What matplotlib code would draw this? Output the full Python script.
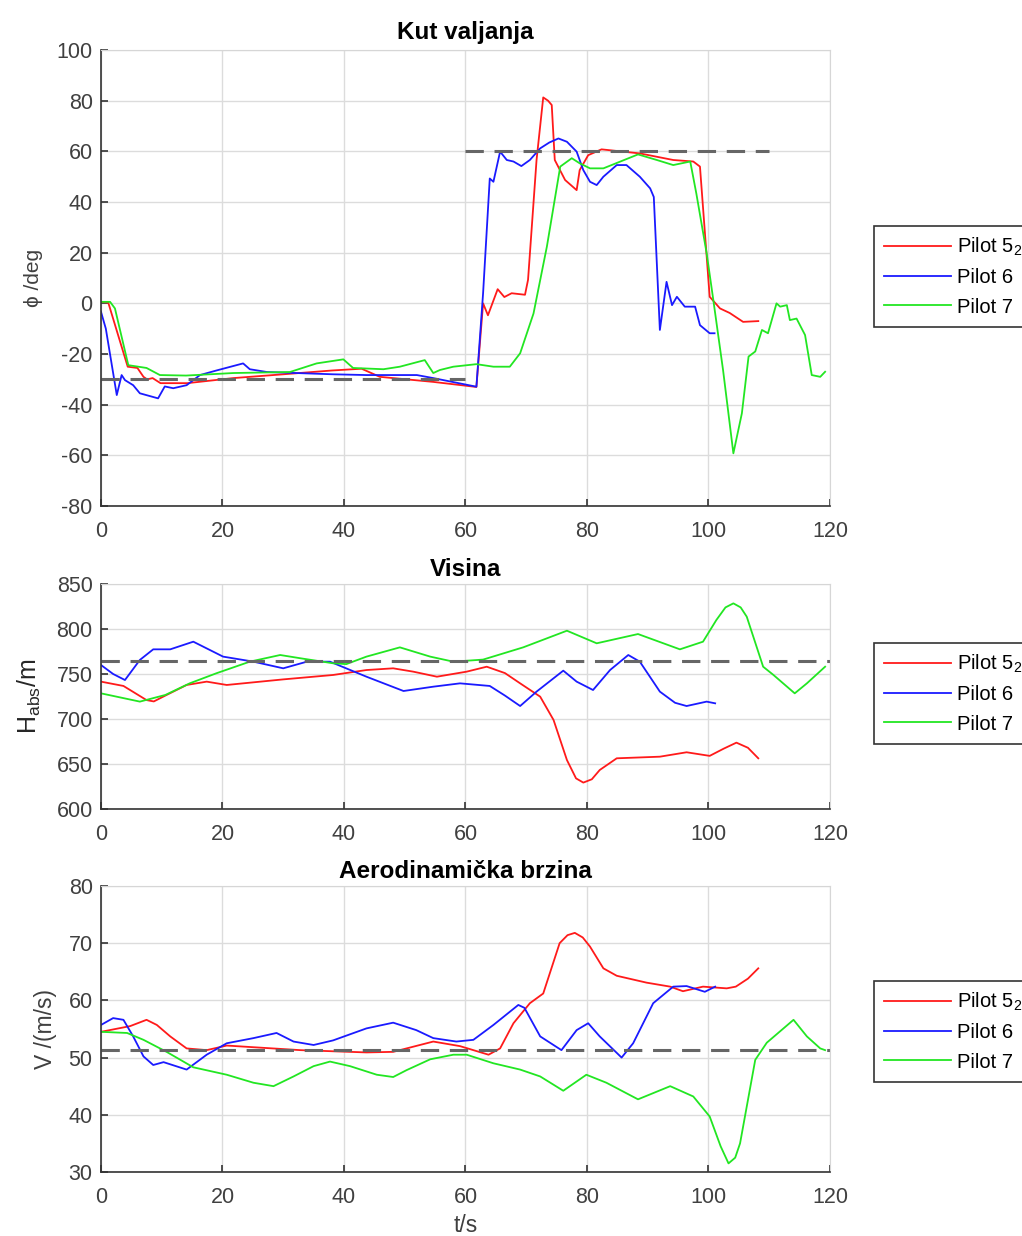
import numpy as np
import matplotlib
matplotlib.use('Agg')
import matplotlib.pyplot as plt

plt.rcParams['font.family'] = ['Liberation Sans', 'DejaVu Sans']
plt.rcParams['mathtext.default'] = 'regular'
plt.rcParams['axes.unicode_minus'] = False

# ---- roll angle (Kut valjanja) ----
t_roll_p5 = [0, 1.2, 2.5, 4.4, 6, 7, 7.6, 8.5, 9.8, 14.2, 21.8, 30, 38, 42.9, 45.9, 54.7, 61.8, 62.9, 63.7,
             65.3, 66.4, 67.6, 69.8, 70.3, 71.7, 72.8, 73.6, 74.2, 74.7, 76.4, 78.3, 78.8, 80.2, 82.4, 88.7,
             94.2, 97.5, 98.6, 100.2, 101.9, 103.5, 105.7, 108.2]
roll_p5 = [0.6, 0.3, -10, -25, -25.5, -29, -30, -29.5, -31.5, -31.5, -29.5, -28, -26.5, -25.8, -29, -31, -33, 0, -4.7,
           5.6, 2.5, 4, 3.4, 9.3, 56.6, 81.3, 80, 78.3, 56.6, 48.7, 44.7, 52.6, 58.5, 60.8, 59.2,
           56.6, 56, 54, 2.6, -2, -3.8, -7.3, -7]
t_roll_p6 = [0, 0.8, 2.6, 3.4, 3.95, 5.3, 6.4, 9.4, 10.5, 11.9, 14.1, 16.3, 19, 23.4, 24.5, 27.3, 38.2, 43.7, 52,
             54.7, 61.8, 62.9, 64, 64.6, 65.7, 66.8, 67.9, 69.2, 70.6, 72.3, 73.8, 75.3, 76.7, 78.3, 79.4, 80.5,
             81.6, 82.7, 84.9, 86.5, 88.7, 90.4, 91.0, 92, 93.1, 94, 94.8, 96.1, 97.8, 98.6, 100.2, 101]
roll_p6 = [-3.3, -10, -36.2, -28.3, -30.3, -32.3, -35.5, -37.5, -32.8, -33.5, -32.3, -28.3, -26.5, -23.7, -26, -27.1,
           -28, -28.3, -28.3, -29.5, -32.9, 4, 49.3, 48, 59.9, 56.6, 56, 54.2, 56.6, 61.2, 63.5, 65.1, 63.8, 59.9,
           52.6, 48, 46.7, 50, 54.6, 54.6, 50, 45.4, 42, -10.5, 8.5, -0.7, 2.6, -1.3, -1.3, -8.6, -11.8, -11.8]
t_roll_p7 = [0, 1.5, 2.3, 4.5, 7.5, 9.7, 14, 21.8, 31.1, 35.5, 39.9, 41.5, 46.5, 49.2, 53.3, 54.7, 55.8, 58, 61.8,
             64.6, 67.3, 69, 71.2, 73.4, 75.6, 77.5, 78.8, 80.5, 82.7, 85.4, 88.4, 91.5, 94.2, 97, 98, 99.7, 100.8,
             102.4, 104.1, 105.5, 106.6, 107.7, 108.8, 109.8, 111.2, 111.8, 112.9, 113.4, 114.5, 115.9, 117,
             118.4, 119.2]
roll_p7 = [0.6, 0.6, -2, -24.4, -25.5, -28.3, -28.5, -27.5, -27.1, -23.7, -22.1, -25.5, -26, -25, -22.4, -27.5,
           -26.3, -25, -24, -25, -25, -19.7, -4, 22.4, 54, 57.3, 55.3, 53.3, 53.3, 55.9, 58.8, 56.6, 54.6, 56, 43.4,
           19.8, 1.3, -26.3, -59.2, -43.4, -21, -19, -10.5, -11.8, 0, -1.3, -0.7, -6.6, -6, -12.5, -28.3, -29, -27]
roll_ref_t = [[0, 60], [60, 110]]
roll_ref = [-30, 60]

# ---- altitude (Visina) ----
t_alt_p5 = [0, 3.7, 7.5, 8.7, 10.8, 14.1, 17.4, 20.7, 30, 38.2, 43.7, 48.1, 51.4, 55.3, 60.2, 63.5, 66.5, 69,
            72.3, 74.5, 76.7, 78.2, 79.4, 80.8, 82.1, 84.9, 92, 96.4, 100.2, 102.5, 104.6, 106.5, 108.2]
alt_p5 = [741.5, 736.7, 721, 719.5, 726.7, 737.8, 741.5, 737.8, 744, 748.9, 754.4, 756.3, 752.6, 747, 752.6, 758.1,
          751, 739.6, 724.8, 698.9, 654.4, 634, 629.3, 633, 643.3, 656.3, 658.1, 663, 659, 667, 673.7, 668, 656.3]
t_alt_p6 = [0, 2, 3.95, 6.4, 8.6, 11.4, 15.2, 20.1, 25.1, 30, 33.9, 37.7, 43.7, 49.8, 54.7, 59.1, 64, 66.5, 69,
            71.7, 76.1, 78.3, 81, 83.8, 86.8, 88.7, 92, 94.5, 96.4, 99.7, 101.1]
alt_p6 = [760, 750, 743.3, 765.6, 777.4, 777.4, 785.9, 769.3, 763.7, 756.3, 763.7, 763.7, 747, 731.1, 735.9, 739.6,
          736.7, 726, 714.4, 730.4, 753.7, 741.5, 732.2, 754.4, 771.1, 763.7, 730.4, 718, 714.4, 719.3, 717.4]
t_alt_p7 = [0, 6.4, 10.6, 14.6, 19, 24.5, 29.5, 32.9, 38.2, 40.4, 43.7, 49.2, 54.2, 58, 62.9, 69.5, 76.7, 81.6,
            88.4, 95.3, 99.1, 101.3, 102.8, 104.1, 105.3, 106.3, 109, 110.7, 114.2, 116.2, 119.2]
alt_p7 = [728.5, 719.3, 726.7, 739.6, 750.8, 763.7, 771.1, 767.4, 761.9, 761, 769.3, 779.6, 769.3, 763.7, 766,
          779.6, 798.1, 784.1, 794.4, 777.4, 785.9, 810, 824, 828.5, 824, 813.7, 758.1, 748.9, 728.5, 739.6, 758.1]
alt_ref = 764

# ---- airspeed (Aerodinamička brzina) ----
t_v_p5 = [0, 4.8, 7.5, 9.2, 11.4, 14.1, 17.4, 20.7, 32.8, 43.7, 48.1, 54.7, 59.1, 63.8, 65.7, 67.9, 70.6, 72.8,
          75.5, 76.8, 78, 79.3, 80.5, 82.7, 84.9, 89.8, 93.7, 95.8, 99.1, 103, 104.5, 106.5, 108.2]
v_p5 = [54.5, 55.5, 56.6, 55.7, 53.7, 51.6, 51.3, 52.1, 51.3, 50.9, 51, 52.8, 52, 50.5, 51.6, 56, 59.5, 61.2,
        70, 71.4, 71.8, 71, 69.4, 65.6, 64.3, 63.1, 62.4, 61.6, 62.4, 62.1, 62.4, 63.8, 65.6]
t_v_p6 = [0, 2, 3.7, 5.3, 7, 8.6, 10.3, 14.1, 17.4, 20.7, 25.1, 28.9, 31.7, 35, 38.2, 43.7, 48.1, 51.9, 54.7,
          58.5, 61.3, 64.6, 68.7, 69.7, 72.3, 75.8, 78.3, 80.2, 82.1, 85.7, 87.6, 90.9, 94.2, 96.4, 99.4, 101.1]
v_p6 = [55.7, 56.9, 56.6, 53.7, 50.2, 48.7, 49.2, 47.9, 50.5, 52.5, 53.4, 54.3, 52.8, 52.2, 53, 55.1, 56.1, 54.8,
        53.4, 52.8, 53.1, 55.7, 59.2, 58.7, 53.7, 51.3, 54.8, 56, 53.7, 50, 52.5, 59.5, 62.4, 62.5, 61.5, 62.4]
t_v_p7 = [0, 4.3, 7, 10.8, 15.2, 20.7, 25.1, 28.4, 31.7, 35, 37.7, 41, 45.4, 48.1, 50.3, 54.2, 58, 60.2, 64.6,
          69, 72.3, 76.1, 79.9, 83.2, 88.4, 93.7, 97.5, 100.2, 102, 103.3, 104.4, 105.2, 107.7, 109.6, 114, 116.2,
          118.4, 119.2]
v_p7 = [54.5, 54.3, 53.1, 51, 48.3, 47, 45.6, 45, 46.7, 48.5, 49.3, 48.5, 47, 46.6, 47.8, 49.7, 50.5, 50.5, 49,
        47.9, 46.7, 44.2, 47, 45.6, 42.7, 45, 43.2, 39.7, 34.5, 31.5, 32.5, 35, 49.6, 52.6, 56.6, 53.7, 51.6, 51.3]
v_ref = 51.4

labels = ['Pilot 5$_2$', 'Pilot 6', 'Pilot 7']
colors = ['#ff1a1a', '#1a1aff', '#22e622']
tick_col = '#404040'

fig = plt.figure(figsize=(10.22, 12.36), dpi=100)
ax1 = fig.add_axes([0.0988, 0.5906, 0.7133, 0.3689])
ax2 = fig.add_axes([0.0988, 0.3455, 0.7133, 0.1820])
ax3 = fig.add_axes([0.0988, 0.0518, 0.7133, 0.2314])


def style(ax):
    ax.set_xlim(0, 120)
    ax.set_xticks(np.arange(0, 121, 20))
    ax.grid(True, color='#dcdcdc', lw=1)
    ax.set_axisbelow(True)
    for s in ['top', 'right']:
        ax.spines[s].set_color('#d6d6d6')
    for s in ['left', 'bottom']:
        ax.spines[s].set_color('#333333')
        ax.spines[s].set_linewidth(1.2)
    ax.tick_params(direction='in', length=5, width=1.2, labelsize=15.5, colors='#333333',
                   labelcolor=tick_col, pad=6)
    ax.tick_params(axis='x', pad=11)


def add_legend(ax, top_px):
    leg = ax.legend(loc='upper left', bbox_to_anchor=(874 / 1022, 1 - top_px / 1236),
                    bbox_transform=fig.transFigure, borderaxespad=0, fancybox=False,
                    edgecolor='#333333', fontsize=14.5, handlelength=3.3, labelspacing=0.5,
                    handletextpad=0.3, borderpad=0.5, framealpha=1)
    leg.get_frame().set_linewidth(1.2)


dash = dict(color='#666666', lw=2.2, dashes=(6, 3.5))

# top panel
ax1.plot(t_roll_p5, roll_p5, color=colors[0], lw=1.3, label=labels[0])
ax1.plot(t_roll_p6, roll_p6, color=colors[1], lw=1.3, label=labels[1])
ax1.plot(t_roll_p7, roll_p7, color=colors[2], lw=1.3, label=labels[2])
for tr, r in zip(roll_ref_t, roll_ref):
    ax1.plot(tr, [r, r], **dash)
style(ax1)
ax1.set_ylim(-80, 100)
ax1.set_yticks(np.arange(-80, 101, 20))
ax1.set_title('Kut valjanja', fontsize=17.5, fontweight='bold', pad=8)
ax1.set_ylabel('ϕ /deg', fontsize=15, color=tick_col, labelpad=10)
add_legend(ax1, 226)

# middle panel
ax2.plot(t_alt_p5, alt_p5, color=colors[0], lw=1.3, label=labels[0])
ax2.plot(t_alt_p6, alt_p6, color=colors[1], lw=1.3, label=labels[1])
ax2.plot(t_alt_p7, alt_p7, color=colors[2], lw=1.3, label=labels[2])
ax2.plot([0, 120], [alt_ref, alt_ref], **dash)
style(ax2)
ax2.set_ylim(600, 850)
ax2.set_yticks(np.arange(600, 851, 50))
ax2.set_title('Visina', fontsize=17.5, fontweight='bold', pad=6)
ax2.set_ylabel('H$_{abs}$/m', fontsize=18, color='#262626', labelpad=10)
add_legend(ax2, 643)

# bottom panel
ax3.plot(t_v_p5, v_p5, color=colors[0], lw=1.3, label=labels[0])
ax3.plot(t_v_p6, v_p6, color=colors[1], lw=1.3, label=labels[1])
ax3.plot(t_v_p7, v_p7, color=colors[2], lw=1.3, label=labels[2])
ax3.plot([0, 120], [v_ref, v_ref], **dash)
style(ax3)
ax3.set_ylim(30, 80)
ax3.set_yticks(np.arange(30, 81, 10))
ax3.set_title('Aerodinamička brzina', fontsize=17.5, fontweight='bold', pad=6)
ax3.set_ylabel('V /(m/s)', fontsize=16.5, color=tick_col, labelpad=8)
ax3.set_xlabel('t/s', fontsize=16.5, color=tick_col, labelpad=4)
add_legend(ax3, 981)

fig.savefig('out.png', dpi=100)
